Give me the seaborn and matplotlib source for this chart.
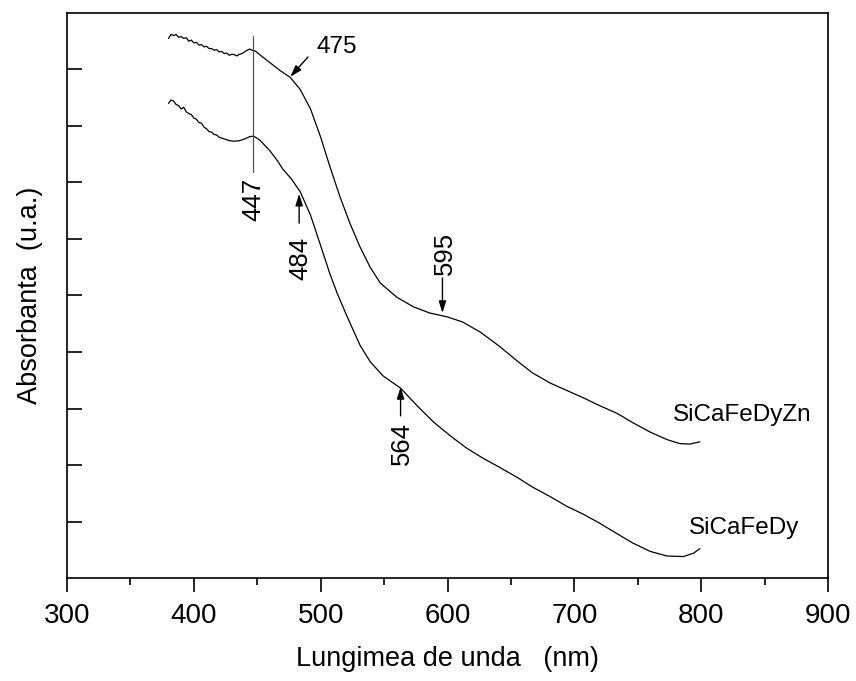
import pandas as pd
import matplotlib
matplotlib.use("Agg")
import matplotlib.pyplot as plt
import seaborn as sns

# wavelength (nm) / absorbance (a.u.)
wl_zn = [380, 382, 384, 386, 388, 390, 392, 394, 396, 398, 400, 402, 404, 406,
         408, 410, 412, 414, 416, 418, 420, 422, 424, 426, 428, 430, 432, 434,
         436, 438, 440, 442, 444, 446, 448, 450, 452, 460, 468, 476, 484, 492,
         500, 507, 515, 523, 531, 539, 547, 560, 573, 586, 600, 612, 626, 641,
         655, 667, 681, 694, 707, 720, 734, 746, 760, 773, 783, 791, 799]
abs_zn = [9.55, 9.62, 9.60, 9.62, 9.57, 9.58, 9.55, 9.56, 9.50, 9.52, 9.47,
          9.48, 9.43, 9.44, 9.40, 9.41, 9.37, 9.37, 9.34, 9.35, 9.31, 9.32,
          9.28, 9.29, 9.25, 9.27, 9.26, 9.24, 9.27, 9.28, 9.31, 9.34, 9.36,
          9.34, 9.33, 9.30, 9.26, 9.12, 8.98, 8.86, 8.64, 8.30, 7.80, 7.30,
          6.76, 6.28, 5.86, 5.50, 5.22, 4.97, 4.80, 4.69, 4.62, 4.53, 4.35,
          4.10, 3.84, 3.63, 3.45, 3.32, 3.19, 3.05, 2.91, 2.75, 2.58, 2.45,
          2.38, 2.37, 2.41]

wl_dy = [380, 382, 384, 386, 388, 390, 392, 394, 396, 398, 400, 402, 404, 406,
         408, 410, 412, 414, 416, 418, 420, 424, 428, 432, 436, 440, 444, 447,
         450, 452, 460, 466, 470, 477, 484, 492, 500, 507, 513, 521, 527, 531,
         539, 549, 563, 576, 589, 602, 615, 628, 641, 655, 667, 681, 694, 707,
         720, 734, 746, 760, 773, 786, 794, 799]
abs_dy = [8.40, 8.46, 8.44, 8.38, 8.36, 8.30, 8.33, 8.25, 8.22, 8.20, 8.14,
          8.12, 8.06, 8.05, 7.98, 7.95, 7.90, 7.89, 7.85, 7.84, 7.80, 7.77,
          7.74, 7.73, 7.74, 7.77, 7.81, 7.82, 7.78, 7.75, 7.56, 7.38, 7.24,
          7.06, 6.83, 6.42, 5.88, 5.40, 5.04, 4.62, 4.32, 4.12, 3.83, 3.58,
          3.36, 3.05, 2.76, 2.52, 2.30, 2.12, 1.96, 1.78, 1.61, 1.44, 1.27,
          1.13, 0.97, 0.78, 0.62, 0.47, 0.39, 0.38, 0.44, 0.52]

series = ["SiCaFeDyZn", "SiCaFeDy"]
peaks = ["447", "475", "484", "595", "564"]

df = pd.concat([
    pd.DataFrame({"wl": wl_zn, "A": abs_zn, "sample": series[0]}),
    pd.DataFrame({"wl": wl_dy, "A": abs_dy, "sample": series[1]}),
])

sns.set_style("ticks")
plt.rcParams["font.family"] = ["Liberation Sans", "DejaVu Sans"]
plt.rcParams["text.color"] = "black"
plt.rcParams["axes.labelcolor"] = "black"
plt.rcParams["xtick.color"] = "black"
plt.rcParams["ytick.color"] = "black"

fig = plt.figure(figsize=(8.56, 6.81), dpi=100)
ax = fig.add_axes([0.0783, 0.1512, 0.889, 0.8298])

sns.lineplot(data=df, x="wl", y="A", units="sample", estimator=None,
             color="black", linewidth=0.9, sort=False, ax=ax)

ax.set_xlim(300, 900)
ax.set_ylim(0, 10)
ax.set_xticks(range(300, 901, 100))
ax.set_xticks(range(350, 900, 100), minor=True)
ax.set_yticks(range(1, 10))
ax.set_yticklabels([])
ax.tick_params(axis="x", which="major", direction="out", length=10, width=1.2,
               labelsize=20, pad=8)
ax.tick_params(axis="x", which="minor", direction="out", length=5, width=1.2)
ax.tick_params(axis="y", direction="in", length=11, width=1.2)
for s in ax.spines.values():
    s.set_linewidth(1.2)
    s.set_color("black")

ax.set_xlabel("Lungimea de unda   (nm)", fontsize=19.5, labelpad=12)
ax.set_ylabel("Absorbanta  (u.a.)", fontsize=19.5, labelpad=14)

# 447 marker line
ax.plot([447, 447], [9.6, 7.18], color="#555555", linewidth=0.9)
ax.text(447, 7.08, peaks[0], rotation=90, ha="center", va="top", fontsize=18.5)

arrow = dict(arrowstyle="-|>,head_length=0.7,head_width=0.22",
             color="black", lw=1.0, shrinkA=0, shrinkB=0)
ax.annotate("", xy=(476, 8.87), xytext=(490, 9.22), arrowprops=arrow)
ax.text(513, 9.40, peaks[1], ha="center", va="center", fontsize=17.5)

ax.annotate("", xy=(483, 6.80), xytext=(483, 6.28), arrowprops=arrow)
ax.text(484, 6.04, peaks[2], rotation=90, ha="center", va="top", fontsize=18.5)

ax.annotate("", xy=(596, 4.69), xytext=(596, 5.31), arrowprops=arrow)
ax.text(598, 5.36, peaks[3], rotation=90, ha="center", va="bottom", fontsize=18.5)

ax.annotate("", xy=(563, 3.38), xytext=(563, 2.87), arrowprops=arrow)
ax.text(564, 2.76, peaks[4], rotation=90, ha="center", va="top", fontsize=18.5)

ax.text(832, 2.88, series[0], ha="center", va="center", fontsize=17.5)
ax.text(834, 0.88, series[1], ha="center", va="center", fontsize=17.5)

fig.savefig("out.png", dpi=100)
